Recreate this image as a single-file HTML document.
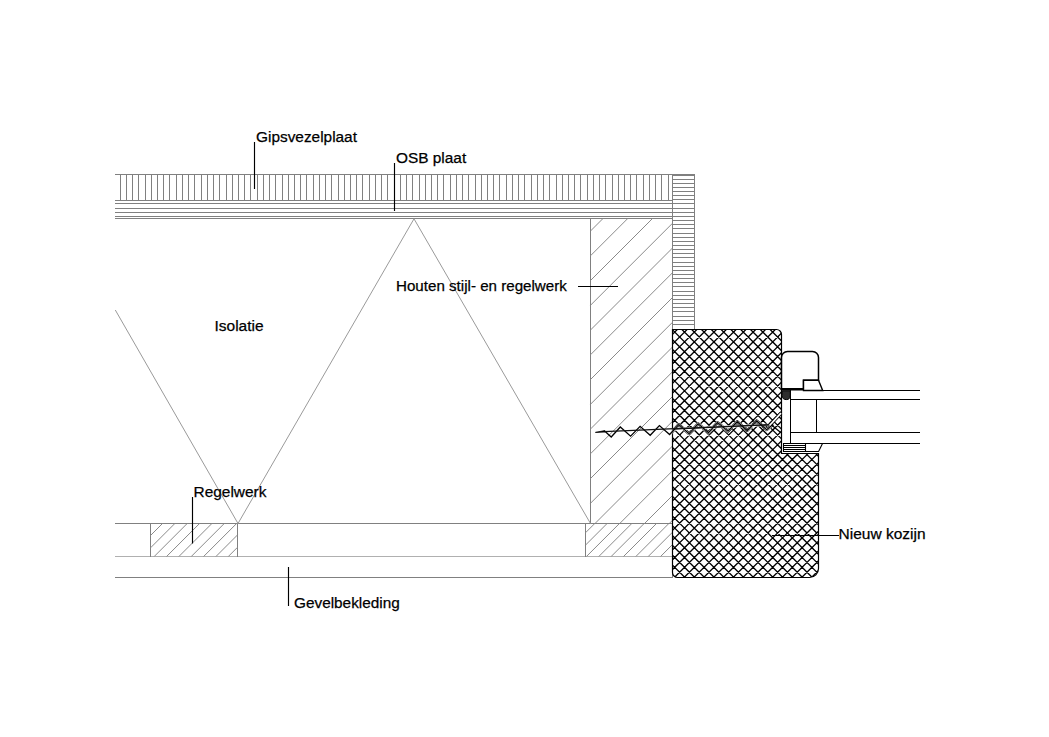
<!DOCTYPE html>
<html><head><meta charset="utf-8"><style>
html,body{margin:0;padding:0;background:#fff;}
svg{display:block;}
text{font-family:"Liberation Sans",sans-serif;font-size:15px;fill:#000;stroke:#000;stroke-width:0.25px;}
</style></head><body>
<svg width="1049" height="737" viewBox="0 0 1049 737">
<rect width="1049" height="737" fill="#fff"/>
<g shape-rendering="crispEdges">
<line x1="115" y1="174.5" x2="695" y2="174.5" stroke="#808080" stroke-width="1"/>
<line x1="115" y1="200.5" x2="672" y2="200.5" stroke="#808080" stroke-width="1"/>
<line x1="120.5" y1="174" x2="120.5" y2="201" stroke="#808080" stroke-width="1"/>
<line x1="126.5" y1="174" x2="126.5" y2="201" stroke="#808080" stroke-width="1"/>
<line x1="132.5" y1="174" x2="132.5" y2="201" stroke="#808080" stroke-width="1"/>
<line x1="138.5" y1="174" x2="138.5" y2="201" stroke="#808080" stroke-width="1"/>
<line x1="145.5" y1="174" x2="145.5" y2="201" stroke="#808080" stroke-width="1"/>
<line x1="151.5" y1="174" x2="151.5" y2="201" stroke="#808080" stroke-width="1"/>
<line x1="157.5" y1="174" x2="157.5" y2="201" stroke="#808080" stroke-width="1"/>
<line x1="163.5" y1="174" x2="163.5" y2="201" stroke="#808080" stroke-width="1"/>
<line x1="169.5" y1="174" x2="169.5" y2="201" stroke="#808080" stroke-width="1"/>
<line x1="176.5" y1="174" x2="176.5" y2="201" stroke="#808080" stroke-width="1"/>
<line x1="182.5" y1="174" x2="182.5" y2="201" stroke="#808080" stroke-width="1"/>
<line x1="188.5" y1="174" x2="188.5" y2="201" stroke="#808080" stroke-width="1"/>
<line x1="194.5" y1="174" x2="194.5" y2="201" stroke="#808080" stroke-width="1"/>
<line x1="201.5" y1="174" x2="201.5" y2="201" stroke="#808080" stroke-width="1"/>
<line x1="207.5" y1="174" x2="207.5" y2="201" stroke="#808080" stroke-width="1"/>
<line x1="213.5" y1="174" x2="213.5" y2="201" stroke="#808080" stroke-width="1"/>
<line x1="219.5" y1="174" x2="219.5" y2="201" stroke="#808080" stroke-width="1"/>
<line x1="226.5" y1="174" x2="226.5" y2="201" stroke="#808080" stroke-width="1"/>
<line x1="232.5" y1="174" x2="232.5" y2="201" stroke="#808080" stroke-width="1"/>
<line x1="238.5" y1="174" x2="238.5" y2="201" stroke="#808080" stroke-width="1"/>
<line x1="244.5" y1="174" x2="244.5" y2="201" stroke="#808080" stroke-width="1"/>
<line x1="250.5" y1="174" x2="250.5" y2="201" stroke="#808080" stroke-width="1"/>
<line x1="257.5" y1="174" x2="257.5" y2="201" stroke="#808080" stroke-width="1"/>
<line x1="263.5" y1="174" x2="263.5" y2="201" stroke="#808080" stroke-width="1"/>
<line x1="269.5" y1="174" x2="269.5" y2="201" stroke="#808080" stroke-width="1"/>
<line x1="275.5" y1="174" x2="275.5" y2="201" stroke="#808080" stroke-width="1"/>
<line x1="282.5" y1="174" x2="282.5" y2="201" stroke="#808080" stroke-width="1"/>
<line x1="288.5" y1="174" x2="288.5" y2="201" stroke="#808080" stroke-width="1"/>
<line x1="294.5" y1="174" x2="294.5" y2="201" stroke="#808080" stroke-width="1"/>
<line x1="300.5" y1="174" x2="300.5" y2="201" stroke="#808080" stroke-width="1"/>
<line x1="306.5" y1="174" x2="306.5" y2="201" stroke="#808080" stroke-width="1"/>
<line x1="313.5" y1="174" x2="313.5" y2="201" stroke="#808080" stroke-width="1"/>
<line x1="319.5" y1="174" x2="319.5" y2="201" stroke="#808080" stroke-width="1"/>
<line x1="325.5" y1="174" x2="325.5" y2="201" stroke="#808080" stroke-width="1"/>
<line x1="331.5" y1="174" x2="331.5" y2="201" stroke="#808080" stroke-width="1"/>
<line x1="338.5" y1="174" x2="338.5" y2="201" stroke="#808080" stroke-width="1"/>
<line x1="344.5" y1="174" x2="344.5" y2="201" stroke="#808080" stroke-width="1"/>
<line x1="350.5" y1="174" x2="350.5" y2="201" stroke="#808080" stroke-width="1"/>
<line x1="356.5" y1="174" x2="356.5" y2="201" stroke="#808080" stroke-width="1"/>
<line x1="362.5" y1="174" x2="362.5" y2="201" stroke="#808080" stroke-width="1"/>
<line x1="369.5" y1="174" x2="369.5" y2="201" stroke="#808080" stroke-width="1"/>
<line x1="375.5" y1="174" x2="375.5" y2="201" stroke="#808080" stroke-width="1"/>
<line x1="381.5" y1="174" x2="381.5" y2="201" stroke="#808080" stroke-width="1"/>
<line x1="387.5" y1="174" x2="387.5" y2="201" stroke="#808080" stroke-width="1"/>
<line x1="394.5" y1="174" x2="394.5" y2="201" stroke="#808080" stroke-width="1"/>
<line x1="400.5" y1="174" x2="400.5" y2="201" stroke="#808080" stroke-width="1"/>
<line x1="406.5" y1="174" x2="406.5" y2="201" stroke="#808080" stroke-width="1"/>
<line x1="412.5" y1="174" x2="412.5" y2="201" stroke="#808080" stroke-width="1"/>
<line x1="419.5" y1="174" x2="419.5" y2="201" stroke="#808080" stroke-width="1"/>
<line x1="425.5" y1="174" x2="425.5" y2="201" stroke="#808080" stroke-width="1"/>
<line x1="431.5" y1="174" x2="431.5" y2="201" stroke="#808080" stroke-width="1"/>
<line x1="437.5" y1="174" x2="437.5" y2="201" stroke="#808080" stroke-width="1"/>
<line x1="443.5" y1="174" x2="443.5" y2="201" stroke="#808080" stroke-width="1"/>
<line x1="450.5" y1="174" x2="450.5" y2="201" stroke="#808080" stroke-width="1"/>
<line x1="456.5" y1="174" x2="456.5" y2="201" stroke="#808080" stroke-width="1"/>
<line x1="462.5" y1="174" x2="462.5" y2="201" stroke="#808080" stroke-width="1"/>
<line x1="468.5" y1="174" x2="468.5" y2="201" stroke="#808080" stroke-width="1"/>
<line x1="475.5" y1="174" x2="475.5" y2="201" stroke="#808080" stroke-width="1"/>
<line x1="481.5" y1="174" x2="481.5" y2="201" stroke="#808080" stroke-width="1"/>
<line x1="487.5" y1="174" x2="487.5" y2="201" stroke="#808080" stroke-width="1"/>
<line x1="493.5" y1="174" x2="493.5" y2="201" stroke="#808080" stroke-width="1"/>
<line x1="499.5" y1="174" x2="499.5" y2="201" stroke="#808080" stroke-width="1"/>
<line x1="506.5" y1="174" x2="506.5" y2="201" stroke="#808080" stroke-width="1"/>
<line x1="512.5" y1="174" x2="512.5" y2="201" stroke="#808080" stroke-width="1"/>
<line x1="518.5" y1="174" x2="518.5" y2="201" stroke="#808080" stroke-width="1"/>
<line x1="524.5" y1="174" x2="524.5" y2="201" stroke="#808080" stroke-width="1"/>
<line x1="531.5" y1="174" x2="531.5" y2="201" stroke="#808080" stroke-width="1"/>
<line x1="537.5" y1="174" x2="537.5" y2="201" stroke="#808080" stroke-width="1"/>
<line x1="543.5" y1="174" x2="543.5" y2="201" stroke="#808080" stroke-width="1"/>
<line x1="549.5" y1="174" x2="549.5" y2="201" stroke="#808080" stroke-width="1"/>
<line x1="556.5" y1="174" x2="556.5" y2="201" stroke="#808080" stroke-width="1"/>
<line x1="562.5" y1="174" x2="562.5" y2="201" stroke="#808080" stroke-width="1"/>
<line x1="568.5" y1="174" x2="568.5" y2="201" stroke="#808080" stroke-width="1"/>
<line x1="574.5" y1="174" x2="574.5" y2="201" stroke="#808080" stroke-width="1"/>
<line x1="580.5" y1="174" x2="580.5" y2="201" stroke="#808080" stroke-width="1"/>
<line x1="587.5" y1="174" x2="587.5" y2="201" stroke="#808080" stroke-width="1"/>
<line x1="593.5" y1="174" x2="593.5" y2="201" stroke="#808080" stroke-width="1"/>
<line x1="599.5" y1="174" x2="599.5" y2="201" stroke="#808080" stroke-width="1"/>
<line x1="605.5" y1="174" x2="605.5" y2="201" stroke="#808080" stroke-width="1"/>
<line x1="612.5" y1="174" x2="612.5" y2="201" stroke="#808080" stroke-width="1"/>
<line x1="618.5" y1="174" x2="618.5" y2="201" stroke="#808080" stroke-width="1"/>
<line x1="624.5" y1="174" x2="624.5" y2="201" stroke="#808080" stroke-width="1"/>
<line x1="630.5" y1="174" x2="630.5" y2="201" stroke="#808080" stroke-width="1"/>
<line x1="636.5" y1="174" x2="636.5" y2="201" stroke="#808080" stroke-width="1"/>
<line x1="643.5" y1="174" x2="643.5" y2="201" stroke="#808080" stroke-width="1"/>
<line x1="649.5" y1="174" x2="649.5" y2="201" stroke="#808080" stroke-width="1"/>
<line x1="655.5" y1="174" x2="655.5" y2="201" stroke="#808080" stroke-width="1"/>
<line x1="661.5" y1="174" x2="661.5" y2="201" stroke="#808080" stroke-width="1"/>
<line x1="668.5" y1="174" x2="668.5" y2="201" stroke="#808080" stroke-width="1"/>
<line x1="115" y1="203.5" x2="672" y2="203.5" stroke="#808080" stroke-width="1"/>
<line x1="115" y1="208.5" x2="672" y2="208.5" stroke="#808080" stroke-width="1"/>
<line x1="115" y1="212.5" x2="672" y2="212.5" stroke="#808080" stroke-width="1"/>
<line x1="115" y1="216.5" x2="672" y2="216.5" stroke="#808080" stroke-width="1"/>
<line x1="115" y1="218.5" x2="672" y2="218.5" stroke="#808080" stroke-width="1"/>
<line x1="672" y1="175.5" x2="695" y2="175.5" stroke="#808080" stroke-width="1"/>
<line x1="672.5" y1="174" x2="672.5" y2="329" stroke="#808080" stroke-width="1"/>
<line x1="694.5" y1="174" x2="694.5" y2="329" stroke="#808080" stroke-width="1"/>
<line x1="672" y1="179.5" x2="695" y2="179.5" stroke="#808080" stroke-width="1"/>
<line x1="672" y1="183.5" x2="695" y2="183.5" stroke="#808080" stroke-width="1"/>
<line x1="672" y1="187.5" x2="695" y2="187.5" stroke="#808080" stroke-width="1"/>
<line x1="672" y1="191.5" x2="695" y2="191.5" stroke="#808080" stroke-width="1"/>
<line x1="672" y1="195.5" x2="695" y2="195.5" stroke="#808080" stroke-width="1"/>
<line x1="672" y1="199.5" x2="695" y2="199.5" stroke="#808080" stroke-width="1"/>
<line x1="672" y1="203.5" x2="695" y2="203.5" stroke="#808080" stroke-width="1"/>
<line x1="672" y1="208.5" x2="695" y2="208.5" stroke="#808080" stroke-width="1"/>
<line x1="672" y1="212.5" x2="695" y2="212.5" stroke="#808080" stroke-width="1"/>
<line x1="672" y1="216.5" x2="695" y2="216.5" stroke="#808080" stroke-width="1"/>
<line x1="672" y1="220.5" x2="695" y2="220.5" stroke="#808080" stroke-width="1"/>
<line x1="672" y1="224.5" x2="695" y2="224.5" stroke="#808080" stroke-width="1"/>
<line x1="672" y1="228.5" x2="695" y2="228.5" stroke="#808080" stroke-width="1"/>
<line x1="672" y1="233.5" x2="695" y2="233.5" stroke="#808080" stroke-width="1"/>
<line x1="672" y1="237.5" x2="695" y2="237.5" stroke="#808080" stroke-width="1"/>
<line x1="672" y1="241.5" x2="695" y2="241.5" stroke="#808080" stroke-width="1"/>
<line x1="672" y1="245.5" x2="695" y2="245.5" stroke="#808080" stroke-width="1"/>
<line x1="672" y1="249.5" x2="695" y2="249.5" stroke="#808080" stroke-width="1"/>
<line x1="672" y1="253.5" x2="695" y2="253.5" stroke="#808080" stroke-width="1"/>
<line x1="672" y1="257.5" x2="695" y2="257.5" stroke="#808080" stroke-width="1"/>
<line x1="672" y1="262.5" x2="695" y2="262.5" stroke="#808080" stroke-width="1"/>
<line x1="672" y1="266.5" x2="695" y2="266.5" stroke="#808080" stroke-width="1"/>
<line x1="672" y1="270.5" x2="695" y2="270.5" stroke="#808080" stroke-width="1"/>
<line x1="672" y1="274.5" x2="695" y2="274.5" stroke="#808080" stroke-width="1"/>
<line x1="672" y1="278.5" x2="695" y2="278.5" stroke="#808080" stroke-width="1"/>
<line x1="672" y1="282.5" x2="695" y2="282.5" stroke="#808080" stroke-width="1"/>
<line x1="672" y1="286.5" x2="695" y2="286.5" stroke="#808080" stroke-width="1"/>
<line x1="672" y1="291.5" x2="695" y2="291.5" stroke="#808080" stroke-width="1"/>
<line x1="672" y1="295.5" x2="695" y2="295.5" stroke="#808080" stroke-width="1"/>
<line x1="672" y1="299.5" x2="695" y2="299.5" stroke="#808080" stroke-width="1"/>
<line x1="672" y1="303.5" x2="695" y2="303.5" stroke="#808080" stroke-width="1"/>
<line x1="672" y1="307.5" x2="695" y2="307.5" stroke="#808080" stroke-width="1"/>
<line x1="672" y1="311.5" x2="695" y2="311.5" stroke="#808080" stroke-width="1"/>
<line x1="672" y1="316.5" x2="695" y2="316.5" stroke="#808080" stroke-width="1"/>
<line x1="672" y1="320.5" x2="695" y2="320.5" stroke="#808080" stroke-width="1"/>
<line x1="672" y1="324.5" x2="695" y2="324.5" stroke="#808080" stroke-width="1"/>
</g>
<g>
<line x1="590.5" y1="218" x2="590.5" y2="523" stroke="#808080" stroke-width="1"/>
<line x1="603.00" y1="218.50" x2="590.50" y2="231.00" stroke="#8a8a8a" stroke-width="1"/>
<line x1="627.75" y1="218.50" x2="590.50" y2="255.75" stroke="#8a8a8a" stroke-width="1"/>
<line x1="652.50" y1="218.50" x2="590.50" y2="280.50" stroke="#8a8a8a" stroke-width="1"/>
<line x1="590.50" y1="305.25" x2="672.50" y2="223.25" stroke="#8a8a8a" stroke-width="1"/>
<line x1="590.50" y1="330.00" x2="672.50" y2="248.00" stroke="#8a8a8a" stroke-width="1"/>
<line x1="590.50" y1="354.75" x2="672.50" y2="272.75" stroke="#8a8a8a" stroke-width="1"/>
<line x1="590.50" y1="379.50" x2="672.50" y2="297.50" stroke="#8a8a8a" stroke-width="1"/>
<line x1="590.50" y1="404.25" x2="672.50" y2="322.25" stroke="#8a8a8a" stroke-width="1"/>
<line x1="590.50" y1="429.00" x2="672.50" y2="347.00" stroke="#8a8a8a" stroke-width="1"/>
<line x1="590.50" y1="453.75" x2="672.50" y2="371.75" stroke="#8a8a8a" stroke-width="1"/>
<line x1="590.50" y1="478.50" x2="672.50" y2="396.50" stroke="#8a8a8a" stroke-width="1"/>
<line x1="590.50" y1="503.25" x2="672.50" y2="421.25" stroke="#8a8a8a" stroke-width="1"/>
<line x1="595.00" y1="523.50" x2="672.50" y2="446.00" stroke="#8a8a8a" stroke-width="1"/>
<line x1="619.75" y1="523.50" x2="672.50" y2="470.75" stroke="#8a8a8a" stroke-width="1"/>
<line x1="644.50" y1="523.50" x2="672.50" y2="495.50" stroke="#8a8a8a" stroke-width="1"/>
<line x1="669.25" y1="523.50" x2="672.50" y2="520.25" stroke="#8a8a8a" stroke-width="1"/>
<line x1="115" y1="523.5" x2="672" y2="523.5" stroke="#808080" stroke-width="1"/>
<line x1="115" y1="556.5" x2="672" y2="556.5" stroke="#b0b0b0" stroke-width="1"/>
<line x1="115" y1="577.5" x2="672" y2="577.5" stroke="#808080" stroke-width="1"/>
<line x1="150.5" y1="523" x2="150.5" y2="557" stroke="#808080" stroke-width="1"/>
<line x1="237.5" y1="523" x2="237.5" y2="557" stroke="#808080" stroke-width="1"/>
<line x1="585.5" y1="523" x2="585.5" y2="557" stroke="#808080" stroke-width="1"/>
<line x1="672.5" y1="523" x2="672.5" y2="578" stroke="#808080" stroke-width="1"/>
<line x1="162.50" y1="523.50" x2="150.50" y2="535.50" stroke="#8a8a8a" stroke-width="1"/>
<line x1="174.85" y1="523.50" x2="150.50" y2="547.85" stroke="#8a8a8a" stroke-width="1"/>
<line x1="187.20" y1="523.50" x2="154.20" y2="556.50" stroke="#8a8a8a" stroke-width="1"/>
<line x1="199.55" y1="523.50" x2="166.55" y2="556.50" stroke="#8a8a8a" stroke-width="1"/>
<line x1="211.90" y1="523.50" x2="178.90" y2="556.50" stroke="#8a8a8a" stroke-width="1"/>
<line x1="224.25" y1="523.50" x2="191.25" y2="556.50" stroke="#8a8a8a" stroke-width="1"/>
<line x1="236.60" y1="523.50" x2="203.60" y2="556.50" stroke="#8a8a8a" stroke-width="1"/>
<line x1="215.95" y1="556.50" x2="237.50" y2="534.95" stroke="#8a8a8a" stroke-width="1"/>
<line x1="228.30" y1="556.50" x2="237.50" y2="547.30" stroke="#8a8a8a" stroke-width="1"/>
<line x1="594.75" y1="523.50" x2="585.50" y2="532.75" stroke="#8a8a8a" stroke-width="1"/>
<line x1="607.10" y1="523.50" x2="585.50" y2="545.10" stroke="#8a8a8a" stroke-width="1"/>
<line x1="619.45" y1="523.50" x2="586.45" y2="556.50" stroke="#8a8a8a" stroke-width="1"/>
<line x1="631.80" y1="523.50" x2="598.80" y2="556.50" stroke="#8a8a8a" stroke-width="1"/>
<line x1="644.15" y1="523.50" x2="611.15" y2="556.50" stroke="#8a8a8a" stroke-width="1"/>
<line x1="656.50" y1="523.50" x2="623.50" y2="556.50" stroke="#8a8a8a" stroke-width="1"/>
<line x1="668.85" y1="523.50" x2="635.85" y2="556.50" stroke="#8a8a8a" stroke-width="1"/>
<line x1="648.20" y1="556.50" x2="672.50" y2="532.20" stroke="#8a8a8a" stroke-width="1"/>
<line x1="660.55" y1="556.50" x2="672.50" y2="544.55" stroke="#8a8a8a" stroke-width="1"/>
<polyline points="115.3,310 238,523.5 414,218.8 590.5,523.5" fill="none" stroke="#9a9a9a" stroke-width="1"/>
</g>
<g>
<clipPath id="kc"><path d="M672.5,329.5 L776.5,329.5 A5,5 0 0 1 781.5,334.5 L781.5,453.5 L818.5,453.5 L818.5,568.5 A9,9 0 0 1 809.5,577.5 L677.5,577.5 A5,5 0 0 1 672.5,572.5 Z"/></clipPath>
<g clip-path="url(#kc)"><path d="M657.40,320 L387.40,590 M667.20,320 L397.20,590 M677.00,320 L407.00,590 M686.80,320 L416.80,590 M696.60,320 L426.60,590 M706.40,320 L436.40,590 M716.20,320 L446.20,590 M726.00,320 L456.00,590 M735.80,320 L465.80,590 M745.60,320 L475.60,590 M755.40,320 L485.40,590 M765.20,320 L495.20,590 M775.00,320 L505.00,590 M784.80,320 L514.80,590 M794.60,320 L524.60,590 M804.40,320 L534.40,590 M814.20,320 L544.20,590 M824.00,320 L554.00,590 M833.80,320 L563.80,590 M843.60,320 L573.60,590 M853.40,320 L583.40,590 M863.20,320 L593.20,590 M873.00,320 L603.00,590 M882.80,320 L612.80,590 M892.60,320 L622.60,590 M902.40,320 L632.40,590 M912.20,320 L642.20,590 M922.00,320 L652.00,590 M931.80,320 L661.80,590 M941.60,320 L671.60,590 M951.40,320 L681.40,590 M961.20,320 L691.20,590 M971.00,320 L701.00,590 M980.80,320 L710.80,590 M990.60,320 L720.60,590 M1000.40,320 L730.40,590 M1010.20,320 L740.20,590 M1020.00,320 L750.00,590 M1029.80,320 L759.80,590 M1039.60,320 L769.60,590 M1049.40,320 L779.40,590 M1059.20,320 L789.20,590 M1069.00,320 L799.00,590 M1078.80,320 L808.80,590 M1088.60,320 L818.60,590 M1098.40,320 L828.40,590 M1108.20,320 L838.20,590 M378.40,320 L648.40,590 M388.20,320 L658.20,590 M398.00,320 L668.00,590 M407.80,320 L677.80,590 M417.60,320 L687.60,590 M427.40,320 L697.40,590 M437.20,320 L707.20,590 M447.00,320 L717.00,590 M456.80,320 L726.80,590 M466.60,320 L736.60,590 M476.40,320 L746.40,590 M486.20,320 L756.20,590 M496.00,320 L766.00,590 M505.80,320 L775.80,590 M515.60,320 L785.60,590 M525.40,320 L795.40,590 M535.20,320 L805.20,590 M545.00,320 L815.00,590 M554.80,320 L824.80,590 M564.60,320 L834.60,590 M574.40,320 L844.40,590 M584.20,320 L854.20,590 M594.00,320 L864.00,590 M603.80,320 L873.80,590 M613.60,320 L883.60,590 M623.40,320 L893.40,590 M633.20,320 L903.20,590 M643.00,320 L913.00,590 M652.80,320 L922.80,590 M662.60,320 L932.60,590 M672.40,320 L942.40,590 M682.20,320 L952.20,590 M692.00,320 L962.00,590 M701.80,320 L971.80,590 M711.60,320 L981.60,590 M721.40,320 L991.40,590 M731.20,320 L1001.20,590 M741.00,320 L1011.00,590 M750.80,320 L1020.80,590 M760.60,320 L1030.60,590 M770.40,320 L1040.40,590 M780.20,320 L1050.20,590 M790.00,320 L1060.00,590 M799.80,320 L1069.80,590 M809.60,320 L1079.60,590 M819.40,320 L1089.40,590 M829.20,320 L1099.20,590 M839.00,320 L1109.00,590 M848.80,320 L1118.80,590" stroke="#000" stroke-width="1.35" fill="none"/></g>
<path d="M672.5,329.5 L776.5,329.5 A5,5 0 0 1 781.5,334.5 L781.5,453.5 L818.5,453.5 L818.5,568.5 A9,9 0 0 1 809.5,577.5 L677.5,577.5 A5,5 0 0 1 672.5,572.5 Z" fill="none" stroke="#000" stroke-width="1.2"/>
<g clip-path="url(#kc)"><polyline points="604.9,431.3 611.2,437.0 620.3,427.0 630.6,436.2 640.1,426.3 650.2,435.3 659.4,425.6 669.6,434.5 678.8,424.6 689,433.7 698.2,423.8 708.4,432.6 717.6,422.6 728,431.2 737.2,421.7 747.2,430.5 756.7,420.9 766.7,429.7 773,424.3" fill="none" stroke="#fff" stroke-width="3.6" stroke-linejoin="round"/><polyline points="604.9,431.3 611.2,437.0 620.3,427.0 630.6,436.2 640.1,426.3 650.2,435.3 659.4,425.6 669.6,434.5 678.8,424.6 689,433.7 698.2,423.8 708.4,432.6 717.6,422.6 728,431.2 737.2,421.7 747.2,430.5 756.7,420.9 766.7,429.7 773,424.3" fill="none" stroke="#000" stroke-width="3.0" stroke-linejoin="round"/><polyline points="604.9,431.3 611.2,437.0 620.3,427.0 630.6,436.2 640.1,426.3 650.2,435.3 659.4,425.6 669.6,434.5 678.8,424.6 689,433.7 698.2,423.8 708.4,432.6 717.6,422.6 728,431.2 737.2,421.7 747.2,430.5 756.7,420.9 766.7,429.7 773,424.3" fill="none" stroke="#fff" stroke-width="1.9" stroke-linejoin="round"/>
<line x1="672" y1="429.2" x2="773" y2="424.6" stroke="#fff" stroke-width="2.4"/><line x1="672" y1="429.2" x2="773" y2="424.6" stroke="#000" stroke-width="1.1"/></g>
<polyline points="604.9,431.3 611.2,437.0 620.3,427.0 630.6,436.2 640.1,426.3 650.2,435.3 659.4,425.6 669.6,434.5 678.8,424.6 689,433.7 698.2,423.8 708.4,432.6 717.6,422.6 728,431.2 737.2,421.7 747.2,430.5 756.7,420.9 766.7,429.7 773,424.3" fill="none" stroke="#000" stroke-width="1.3"/>
<line x1="604" y1="431.6" x2="773" y2="424.6" stroke="#111" stroke-width="1.3"/>
<path d="M595.4,432.4 L604.9,430.6 L604.9,432.0 Z" fill="#000" stroke="#000" stroke-width="0.8"/>
<path d="M769.5,425.5 L781,413.2" stroke="#000" stroke-width="3.4" fill="none"/>
<path d="M769.5,425.5 L781,413.2" stroke="#fff" stroke-width="1.8" fill="none"/>
<path d="M771.5,425 L781,432.8" stroke="#000" stroke-width="1.3" fill="none"/>
<path d="M781.5,388 L781.5,357.5 A6,6 0 0 1 787.5,351.5 L812.5,351.5 A6,6 0 0 1 818.5,357.5 L818.5,380.2 L803.5,380.2 L803.5,389" fill="#fff" stroke="#000" stroke-width="1.5"/>
<path d="M803.5,380.2 L818.5,380.2 L822.7,390.5 L803.5,390.5 Z" fill="#fff" stroke="#000" stroke-width="1.4"/>
<rect x="781.5" y="388" width="22" height="2.5" fill="#000"/>
<g shape-rendering="crispEdges"><line x1="803" y1="390.5" x2="920" y2="390.5" stroke="#000" stroke-width="1.1"/><line x1="790" y1="399.5" x2="920" y2="399.5" stroke="#000" stroke-width="1.1"/><line x1="790" y1="432.5" x2="920" y2="432.5" stroke="#000" stroke-width="1.1"/><line x1="790" y1="443.5" x2="920" y2="443.5" stroke="#000" stroke-width="1.1"/><line x1="790.5" y1="390" x2="790.5" y2="444" stroke="#000" stroke-width="1.1"/><line x1="816.5" y1="399.5" x2="816.5" y2="432.5" stroke="#000" stroke-width="1.1"/><rect x="783.5" y="443.5" width="22" height="8" fill="#fff" stroke="#000" stroke-width="1.1"/><line x1="783.5" y1="445.5" x2="805.5" y2="445.5" stroke="#000" stroke-width="1"/><line x1="783.5" y1="447.5" x2="805.5" y2="447.5" stroke="#000" stroke-width="1"/><line x1="783.5" y1="449.5" x2="805.5" y2="449.5" stroke="#000" stroke-width="1"/></g>
<path d="M805.5,443.5 L822.5,443.5 L818.6,451.5 L805.5,451.5 Z" fill="#fff" stroke="#000" stroke-width="1.1"/>
<pattern id="dots" width="2.2" height="2.2" patternUnits="userSpaceOnUse"><rect width="2.2" height="2.2" fill="#fff"/><rect width="1.2" height="1.2" fill="#222"/></pattern>
<path d="M782.2,390.8 L790.3,390.8 L790.3,395.5 Q790.3,399.6 786.2,399.6 Q782.2,399.6 782.2,395.5 Z" fill="#2e2e2e" stroke="#000" stroke-width="1"/>
</g>
<g>
<line x1="254.5" y1="142" x2="254.5" y2="189" stroke="#000" stroke-width="1.15"/>
<line x1="394.5" y1="163" x2="394.5" y2="211" stroke="#000" stroke-width="1.15"/>
<line x1="578" y1="286.5" x2="618" y2="286.5" stroke="#000" stroke-width="1.15"/>
<line x1="192.5" y1="497" x2="192.5" y2="543.5" stroke="#000" stroke-width="1.15"/>
<line x1="288.5" y1="567" x2="288.5" y2="606" stroke="#000" stroke-width="1.15"/>
<line x1="772" y1="535.5" x2="839" y2="535.5" stroke="#000" stroke-width="1.15"/>
<text x="256" y="142" style="font-size:15.4px">Gipsvezelplaat</text>
<text x="396" y="162.5" style="font-size:15.4px">OSB plaat</text>
<text x="214.5" y="330.6" style="font-size:15.5px">Isolatie</text>
<text x="396" y="290.8" style="font-size:15.15px">Houten stijl- en regelwerk</text>
<text x="193.5" y="497" style="font-size:15.45px">Regelwerk</text>
<text x="838.5" y="539.0" style="font-size:15.5px">Nieuw kozijn</text>
<text x="294" y="608.0" style="font-size:15.35px">Gevelbekleding</text>
</g>
</svg>
</body></html>
